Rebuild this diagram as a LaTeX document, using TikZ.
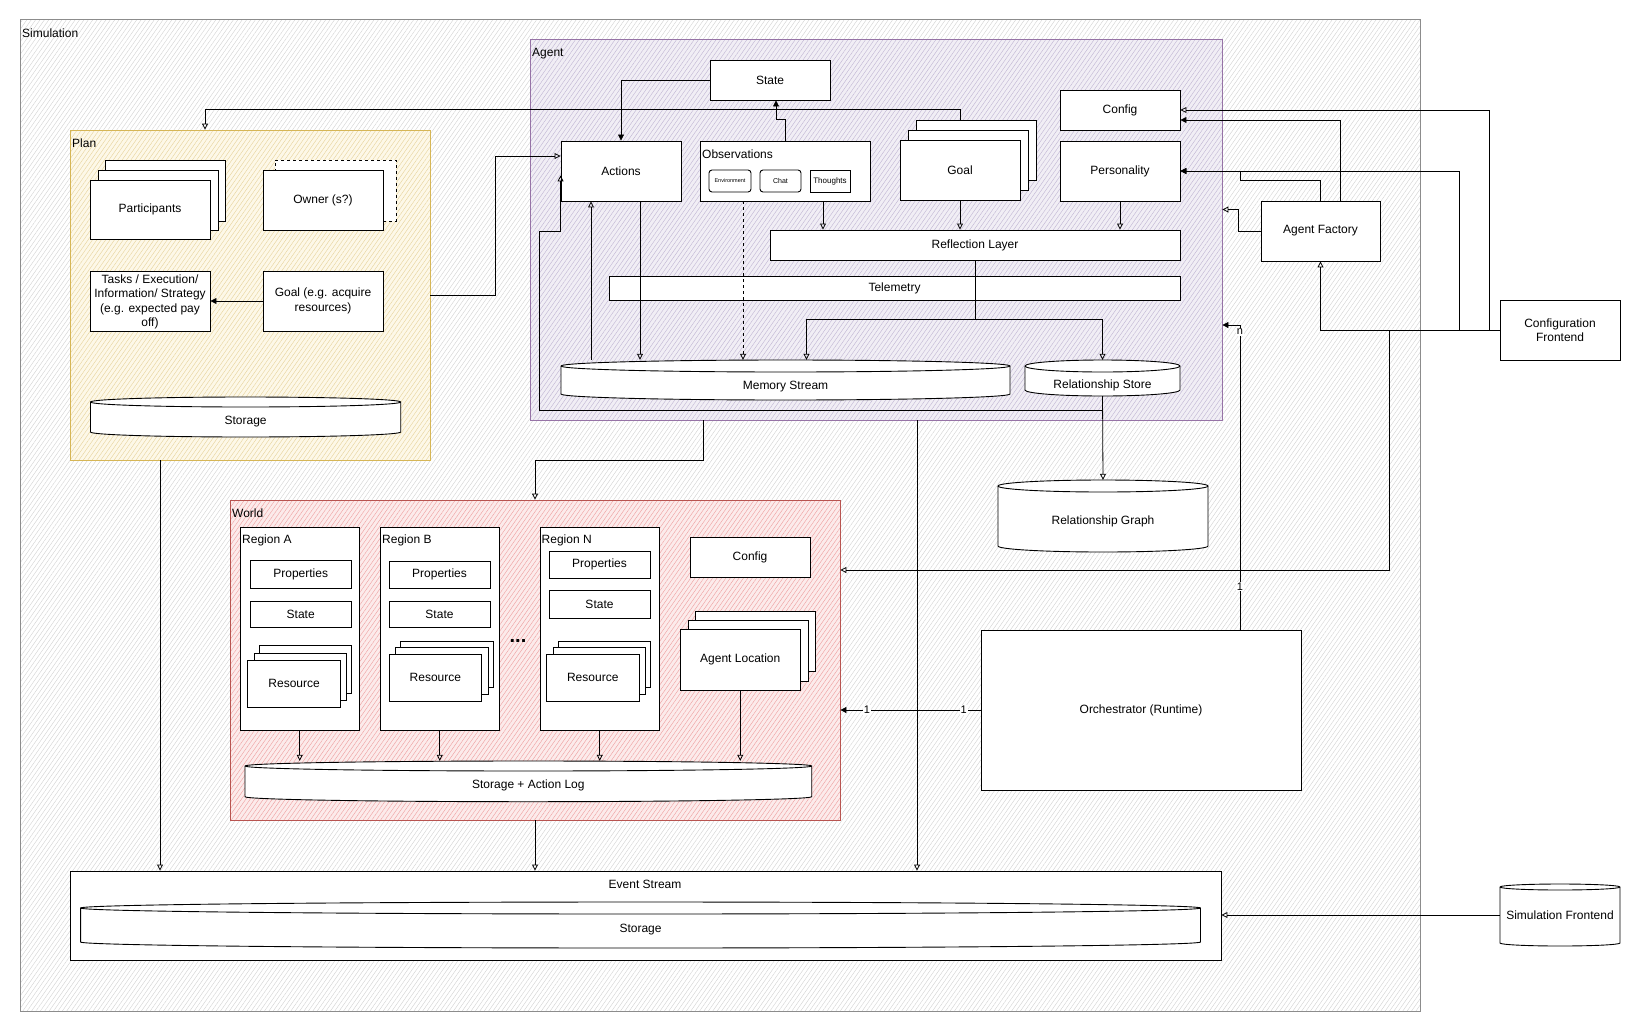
\documentclass[tikz,border=0pt]{standalone}
\usepackage{fontspec}
\setmainfont{Liberation Sans}
\usetikzlibrary{arrows.meta,patterns.meta,fit,calc}
\definecolor{planB}{HTML}{D6B656}
\definecolor{planF}{HTML}{FDF8E8}
\definecolor{planH}{HTML}{E6D29A}
\definecolor{agB}{HTML}{9673A6}
\definecolor{agF}{HTML}{F1EEF5}
\definecolor{agH}{HTML}{BFB4D2}
\definecolor{wB}{HTML}{B85450}
\definecolor{wF}{HTML}{FCEBEB}
\definecolor{wH}{HTML}{EE9E9E}
\definecolor{simB}{HTML}{8C8C8C}
\definecolor{simH}{HTML}{D2D2D2}
\newcommand\cylpath[5]{%
  \pgfmathsetmacro\cylrx{(#3-#1)/2}%
  \filldraw[fill=white,draw=black,line width=0.9pt]
    (#1,{-(#2+#5)}) -- (#1,{-(#4-#5)})
    arc[start angle=180,end angle=360,x radius=\cylrx pt,y radius=#5pt]
    -- (#3,{-(#2+#5)})
    arc[start angle=0,end angle=180,x radius=\cylrx pt,y radius=#5pt] -- cycle;
  \draw[line width=0.9pt] (#1,{-(#2+#5)}) arc[start angle=180,end angle=360,x radius=\cylrx pt,y radius=#5pt];
}
\begin{document}
\begin{tikzpicture}[x=1pt,y=1pt,
  font=\fontsize{12}{14.5}\selectfont,
  box/.style={draw=black,line width=0.9pt,fill=white,inner sep=0pt},
  ghost/.style={draw=none,inner sep=0pt},
  lbl/.style={inner sep=0pt,anchor=west},
  txt/.style={inner sep=0pt},
  con/.style={line width=0.8pt,draw=black},
  oa/.style={con,-{Triangle[open,length=6pt,width=6pt]}},
  fa/.style={con,-{Triangle[length=6pt,width=6pt]}},
  elab/.style={fill=white,inner sep=1pt,font=\fontsize{11}{12}\selectfont},
  hatch/.style={pattern={Lines[angle=55,distance=3.6pt,line width=0.4pt]}},
]
\useasboundingbox (0,0) rectangle (1641,-1031);

% ---------- containers ----------
\node[ghost, fit={(20,-19)(1420,-1011)}, draw=simB, line width=0.8pt,
      preaction={fill=white}, hatch, pattern color=simH] (sim) {};
\node[lbl] (simlbl) at (22,-33) {Simulation};

\node[ghost, fit={(70,-130)(430,-460)}, draw=planB, line width=0.8pt,
      preaction={fill=planF}, hatch, pattern color=planH] (plan) {};
\node[lbl] (planlbl) at (72,-143) {Plan};

\node[ghost, fit={(530,-39)(1222,-420)}, draw=agB, line width=0.8pt,
      preaction={fill=agF}, hatch, pattern color=agH] (agent) {};
\node[lbl] (agentlbl) at (532,-54) {Agent};

\node[ghost, fit={(230,-500)(840,-820)}, draw=wB, line width=0.8pt,
      preaction={fill=wF}, hatch, pattern color=wH] (world) {};
\node[lbl] (worldlbl) at (232,-513) {World};

% ---------- Plan ----------
\node[box, fit={(105,-160)(225,-221)}] (part3) {};
\node[box, fit={(98,-170)(218,-230)}] (part2) {};
\node[box, fit={(90,-180)(210,-239)}] (part1) {};
\node[txt] (part1txt) at (part1.center) {Participants};
\node[box, dashed, fit={(275,-160)(396,-221)}] (owner2) {};
\node[box, fit={(263,-170)(383,-230)}] (owner) {};
\node[txt] (ownertxt) at (owner.center) {Owner (s?)};
\node[box, fit={(90,-271)(210,-331)}] (tasks) {};
\node[txt, align=center] (taskstxt) at ([yshift=-1pt]tasks.center) {Tasks / Execution/\\Information/ Strategy\\(e.g. expected pay\\off)};
\node[box, fit={(263,-271)(383,-331)}] (pgoal) {};
\node[txt, align=center] (pgoaltxt) at (pgoal.center) {Goal (e.g. acquire\\resources)};
\cylpath{90.5}{397}{400.7}{437}{5}
\node[ghost, fit={(90.5,-397)(400.7,-437)}] (pstore) {};
\node[txt] (pstoretxt) at ([yshift=-5pt]pstore.center) {Storage};

% ---------- Agent ----------
\node[box, fit={(710,-60)(830,-100)}] (state) {};
\node[txt] (statetxt) at (state.center) {State};
\node[box, fit={(561,-141)(681,-201)}] (actions) {};
\node[txt] (actionstxt) at (actions.center) {Actions};
\node[box, fit={(700,-141)(870,-201)}] (obs) {};
\node[lbl] (obslbl) at (702,-154) {Observations};
\node[box, rounded corners=3pt, fit={(709,-170)(751,-192)}] (env) {};
\node[txt, font=\fontsize{5.5}{6}\selectfont] (envtxt) at (env.center) {Environment};
\node[box, rounded corners=3pt, fit={(760,-170)(801,-192)}] (chat) {};
\node[txt, font=\fontsize{7}{8}\selectfont] (chattxt) at (chat.center) {Chat};
\node[box, fit={(810,-170)(850,-192)}] (thoughts) {};
\node[txt, font=\fontsize{8}{9}\selectfont] (thoughtstxt) at (thoughts.center) {Thoughts};
\node[box, fit={(916,-120)(1036,-180)}] (goal3) {};
\node[box, fit={(908,-130)(1028,-190)}] (goal2) {};
\node[box, fit={(900,-140)(1020,-200)}] (goal1) {};
\node[txt] (goal1txt) at (goal1.center) {Goal};
\node[box, fit={(1060,-90)(1180,-130)}] (config) {};
\node[txt] (configtxt) at (config.center) {Config};
\node[box, fit={(1060,-141)(1180,-201)}] (pers) {};
\node[txt] (perstxt) at (pers.center) {Personality};
\node[box, fit={(770,-230)(1180,-260)}] (refl) {};
\node[txt] (refltxt) at (refl.center) {Reflection Layer};
\node[box, fit={(609,-276)(1180,-300)}] (tele) {};
\node[txt] (teletxt) at (tele.center) {Telemetry};
\cylpath{561}{360}{1010}{400}{6}
\node[ghost, fit={(561,-360)(1010,-400)}] (mem) {};
\node[txt] (memtxt) at ([yshift=-7pt]mem.center) {Memory Stream};
\cylpath{1025}{360}{1180}{396}{6}
\node[ghost, fit={(1025,-360)(1180,-396)}] (rel) {};
\node[txt] (reltxt) at ([yshift=-7pt]rel.center) {Relationship Store};

% ---------- outside right ----------
\node[box, fit={(1261,-201)(1380,-261)}] (af) {};
\node[txt] (aftxt) at (af.center) {Agent Factory};
\node[box, fit={(1500,-300)(1620,-360)}] (cf) {};
\node[txt, align=center] (cftxt) at (cf.center) {Configuration\\Frontend};
\cylpath{998}{480}{1208}{552}{6}
\node[ghost, fit={(998,-480)(1208,-552)}] (relg) {};
\node[txt] (relgtxt) at ([yshift=-5pt]relg.center) {Relationship Graph};
\node[box, fit={(981,-630)(1301,-790)}] (orch) {};
\node[txt] (orchtxt) at (orch.center) {Orchestrator (Runtime)};
\cylpath{1500}{884}{1620}{946}{3}
\node[ghost, fit={(1500,-884)(1620,-946)}] (sf) {};
\node[txt] (sftxt) at (sf.center) {Simulation Frontend};

% ---------- World ----------
\node[box, fit={(240.5,-527)(359,-730)}] (regA) {};
\node[lbl] (regAlbl) at (242,-540) {Region A};
\node[box, fit={(380.5,-527)(499,-730)}] (regB) {};
\node[lbl] (regBlbl) at (382,-540) {Region B};
\node[box, fit={(540,-527)(659.5,-730)}] (regN) {};
\node[lbl] (regNlbl) at (541.5,-540) {Region N};
\node[txt, font=\fontsize{20}{20}\selectfont\bfseries] (dots) at (518,-641) {...};

\node[box, fit={(250.4,-560)(351,-588)}] (aprop) {};
\node[txt] (aproptxt) at (aprop.center) {Properties};
\node[box, fit={(250.4,-601)(351,-627)}] (astate) {};
\node[txt] (astatetxt) at (astate.center) {State};
\node[box, fit={(259.5,-645)(351.6,-693)}] (ares3) {};
\node[box, fit={(254,-653)(346.5,-700)}] (ares2) {};
\node[box, fit={(247.7,-660)(340.5,-707)}] (ares1) {};
\node[txt] (ares1txt) at (ares1.center) {Resource};

\node[box, fit={(389,-561)(490,-588)}] (bprop) {};
\node[txt] (bproptxt) at (bprop.center) {Properties};
\node[box, fit={(389,-601)(490,-627)}] (bstate) {};
\node[txt] (bstatetxt) at (bstate.center) {State};
\node[box, fit={(400.6,-641)(493.5,-687)}] (bres3) {};
\node[box, fit={(395.5,-647)(488,-694)}] (bres2) {};
\node[box, fit={(389,-654)(481.7,-701)}] (bres1) {};
\node[txt] (bres1txt) at (bres1.center) {Resource};

\node[box, fit={(549,-551)(650,-578)}] (nprop) {};
\node[txt] (nproptxt) at (nprop.center) {Properties};
\node[box, fit={(549,-590)(650,-618)}] (nstate) {};
\node[txt] (nstatetxt) at (nstate.center) {State};
\node[box, fit={(558.3,-641)(650.8,-687)}] (nres3) {};
\node[box, fit={(553,-647)(645,-694)}] (nres2) {};
\node[box, fit={(546.5,-654)(639,-701)}] (nres1) {};
\node[txt] (nres1txt) at (nres1.center) {Resource};

\node[box, fit={(690,-537)(810,-577)}] (wconfig) {};
\node[txt] (wconfigtxt) at (wconfig.center) {Config};
\node[box, fit={(695,-611)(815,-671)}] (aloc3) {};
\node[box, fit={(688,-620)(808,-681)}] (aloc2) {};
\node[box, fit={(680.5,-629)(800,-690)}] (aloc1) {};
\node[txt] (aloc1txt) at (aloc1.center) {Agent Location};
\cylpath{245}{761}{811.7}{801.7}{5}
\node[ghost, fit={(245,-761)(811.7,-801.7)}] (wstore) {};
\node[txt] (wstoretxt) at ([yshift=-4pt]wstore.center) {Storage + Action Log};

% ---------- Event stream ----------
\node[box, fit={(70,-871)(1221,-960)}] (evt) {};
\node[txt] (evttxt) at (645,-884) {Event Stream};
\cylpath{80.6}{902}{1200.5}{948}{6}
\node[ghost, fit={(80.6,-902)(1200.5,-948)}] (evstore) {};
\node[txt] (evstoretxt) at ([yshift=-5pt]evstore.center) {Storage};

% ---------- connectors ----------
\draw[fa] (pgoal.west) -- (tasks.east);
\draw[oa] ([xshift=-16pt]goal3.north) -- ++(0,10) -| ([xshift=-45pt]plan.north);
\draw[oa] (plan.east) -- ++(65,0) |- ([yshift=15pt]actions.west);
\draw[fa] (state.west) -| (actions.north);
\draw[fa] (obs.north) -- ++(0,21) -| ([xshift=6pt]state.south);
\draw[oa] ([xshift=19pt]actions.south) -- ([xshift=19pt]actions.south |- mem.north);
\draw[oa] ([xshift=-30pt]actions.south |- mem.north) -- ([xshift=-30pt]actions.south);
\draw[oa,dashed] ([xshift=-42pt]obs.south) -- ([xshift=-42pt]obs.south |- mem.north);
\draw[oa] ([xshift=38pt]obs.south) -- ([xshift=38pt]obs.south |- refl.north);
\draw[oa] (goal1.south) -- (goal1.south |- refl.north);
\draw[oa] (pers.south) -- (pers.south |- refl.north);
\draw[oa] (refl.south) -- ++(0,-59) -| ([xshift=21pt]mem.north);
\draw[oa] (refl.south) -- ++(0,-59) -| (rel.north);
\draw[oa] (rel.south) -- ++(0,-14) -| ([xshift=-21pt,yshift=-30pt]actions.south west)
   -- ([yshift=-30pt]actions.south west) -- ([yshift=26pt]actions.south west);
\draw[oa] (rel.south) -- (relg.north);
\draw[oa] (cf.west) -- ++(-10,0) |- (config.east);
\draw[fa] ([xshift=20pt]af.north) |- ([yshift=-10pt]config.east);
\draw[fa] (af.north) -- ++(0,20) -- ++(-80,0) |- (pers.east);
\draw[fa] (cf.west) -- ++(-40,0) |- (pers.east);
\draw[oa] (af.west) -- ++(-22,0) |- ([yshift=20pt]agent.east);
\draw[oa] (cf.west) -| (af.south);
\draw[oa] (cf.west) -- ++(-110,0) |- ([yshift=90pt]world.east);
\draw[fa] ([xshift=99pt]orch.north) |- ([yshift=-95.5pt]agent.east);
\node[elab] (on1) at ([xshift=99pt,yshift=43pt]orch.north) {1};
\node[elab] (onn) at ([xshift=99pt,yshift=298pt]orch.north) {n};
\draw[fa] (orch.west) -- (orch.west -| world.east)
   node[elab, pos=0.12] (ow1) {1} node[elab, pos=0.81] (ow2) {1};
\draw[oa] ([xshift=-173pt]agent.south) -- ++(0,-40) -| (world.north);
\draw[oa] ([xshift=41pt]agent.south) -- ([xshift=41pt]agent.south |- evt.north);
\draw[oa] (world.south) -- (world.south |- evt.north);
\draw[oa] ([xshift=-90pt]plan.south) -- ([xshift=-90pt]plan.south |- evt.north);
\draw[oa] (sf.west) -- (sf.west -| evt.east);
\draw[oa] (regA.south) -- (regA.south |- wstore.north);
\draw[oa] (regB.south) -- (regB.south |- wstore.north);
\draw[oa] (regN.south) -- (regN.south |- wstore.north);
\draw[oa] (aloc1.south) -- (aloc1.south |- wstore.north);
\end{tikzpicture}
\end{document}
